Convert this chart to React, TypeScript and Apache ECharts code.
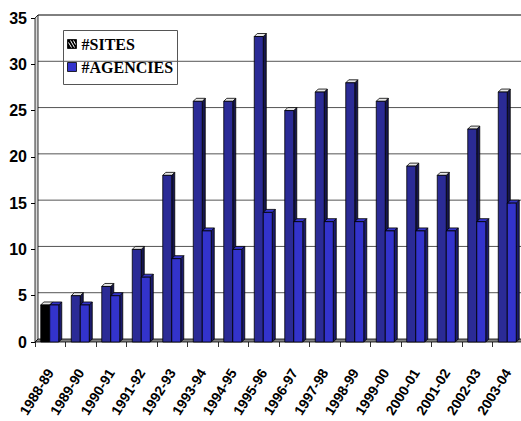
import React, { useEffect, useRef } from "react";
import * as echarts from "echarts";

// School years on the category axis
const categories = [
  "1988-89", "1989-90", "1990-91", "1991-92", "1992-93", "1993-94", "1994-95", "1995-96",
  "1996-97", "1997-98", "1998-99", "1999-00", "2000-01", "2001-02", "2002-03", "2003-04",
];
// Counts per year
const sites = [4, 5, 6, 10, 18, 26, 26, 33, 25, 27, 28, 26, 19, 18, 23, 27];
const agencies = [4, 4, 5, 7, 9, 12, 10, 14, 13, 13, 13, 12, 12, 12, 13, 15];
// Value axis ticks
const yTicks = [0, 5, 10, 15, 20, 25, 30, 35];
const seriesNames = ["#SITES", "#AGENCIES"];

const DEPTH = 3;
const BAR_W = 9;

const palettes = [
  { front: "#2B2B96", side: "#16164E", top: "#E6E6E6" },
  { front: "#3333CC", side: "#1B1B6E", top: "#3434C8" },
];

function makeBarSeries(si: number, values: number[]) {
  return {
    type: "custom",
    name: seriesNames[si],
    z: 3 + si,
    data: values.map((v, i) => [i, v]),
    encode: { x: 0, y: 1 },
    renderItem: (params: any, api: any) => {
      const idx = api.value(0);
      const val = api.value(1);
      const [cx, y] = api.coord([idx, val]);
      const [, y0] = api.coord([idx, 0]);
      const x0 = (si === 0 ? cx - BAR_W : cx) - 0.5;
      const x1 = x0 + BAR_W;
      const pal = palettes[si];
      // the first year's site bar is solid black
      const front = si === 0 && idx === 0 ? "#000000" : pal.front;
      const edge = { stroke: "#000", lineWidth: 0.8 };
      return {
        type: "group",
        children: [
          {
            type: "polygon",
            shape: { points: [[x1, y], [x1 + DEPTH, y - DEPTH], [x1 + DEPTH, y0 - DEPTH], [x1, y0]] },
            style: { fill: pal.side, ...edge },
          },
          {
            type: "polygon",
            shape: { points: [[x0, y], [x1, y], [x1 + DEPTH, y - DEPTH], [x0 + DEPTH, y - DEPTH]] },
            style: { fill: pal.top, ...edge },
          },
          {
            type: "rect",
            shape: { x: x0, y: y, width: BAR_W, height: y0 - y },
            style: { fill: front, ...edge },
          },
        ],
      };
    },
  };
}

// Back wall gridlines, left wall and floor of the 3D plot box
const frameSeries = {
  type: "custom",
  z: 1,
  silent: true,
  data: [[0, 0]],
  encode: { x: 0, y: 1 },
  renderItem: (params: any, api: any) => {
    const cs = params.coordSys;
    const L = cs.x;
    const R = cs.x + cs.width;
    const [, y0] = api.coord([0, 0]);
    const [, yTop] = api.coord([0, yTicks[yTicks.length - 1]]);
    const children: any[] = [];
    yTicks.forEach((t) => {
      if (t === 0) return;
      const [, yy] = api.coord([0, t]);
      children.push({
        type: "line",
        shape: { x1: L + DEPTH, y1: yy - DEPTH, x2: R + DEPTH, y2: yy - DEPTH },
        style: { stroke: t === 35 ? "#000" : "#555", lineWidth: 1 },
      });
    });
    children.push({
      type: "polygon",
      shape: { points: [[L, y0], [L, yTop], [L + DEPTH, yTop - DEPTH], [L + DEPTH, y0 - DEPTH]] },
      style: { fill: "#D8D8D8", stroke: "#000", lineWidth: 0.8 },
    });
    children.push({
      type: "polygon",
      shape: { points: [[L, y0], [R, y0], [R + DEPTH, y0 - DEPTH], [L + DEPTH, y0 - DEPTH]] },
      style: { fill: "#808080", stroke: "#000", lineWidth: 0.8 },
    });
    return { type: "group", children };
  },
};

const legendFont = 'bold 16px "Liberation Serif", "Times New Roman", serif';

const legendGraphic = {
  type: "group",
  left: 63,
  top: 30,
  children: [
    {
      type: "rect",
      shape: { x: 0, y: 0, width: 114, height: 54 },
      style: { fill: "#fff", stroke: "#555", lineWidth: 1 },
    },
    // hatched swatch
    {
      type: "rect",
      shape: { x: 4, y: 9, width: 9, height: 9 },
      style: { fill: "#000", stroke: "#000", lineWidth: 0.8 },
    },
    { type: "line", shape: { x1: 5, y1: 12, x2: 8, y2: 17 }, style: { stroke: "#fff", lineWidth: 1 } },
    { type: "line", shape: { x1: 7, y1: 10, x2: 11, y2: 17 }, style: { stroke: "#fff", lineWidth: 1 } },
    { type: "line", shape: { x1: 10, y1: 10, x2: 12, y2: 14 }, style: { stroke: "#fff", lineWidth: 1 } },
    {
      type: "text",
      style: { x: 18, y: 14, text: seriesNames[0], font: legendFont, fill: "#000", verticalAlign: "middle" },
    },
    {
      type: "rect",
      shape: { x: 4, y: 32, width: 9, height: 9 },
      style: { fill: palettes[1].front, stroke: "#000", lineWidth: 0.8 },
    },
    {
      type: "text",
      style: { x: 18, y: 37, text: seriesNames[1], font: legendFont, fill: "#000", verticalAlign: "middle" },
    },
  ],
};

export default function App() {
  const ref = useRef<HTMLDivElement>(null);

  useEffect(() => {
    if (!ref.current) return;
    const chart = echarts.init(ref.current, null, { renderer: "svg" });
    chart.setOption({
      animation: false,
      backgroundColor: "#fff",
      grid: { left: 35, top: 18, width: 488, height: 324, outerBoundsMode: "none", containLabel: false },
      xAxis: {
        type: "category",
        data: categories,
        axisLine: { show: false },
        axisTick: { show: true, length: 5, lineStyle: { color: "#333" } },
        axisLabel: {
          interval: 0,
          rotate: 58,
          margin: 28,
          fontFamily: '"Liberation Sans", Arial, sans-serif',
          fontWeight: "bold",
          fontSize: 14,
          color: "#000",
        },
        splitLine: { show: false },
      },
      yAxis: {
        type: "value",
        min: 0,
        max: 35,
        interval: 5,
        axisLine: { show: false },
        axisTick: { show: true, length: 4, lineStyle: { color: "#000" } },
        axisLabel: {
          margin: 8,
          fontFamily: '"Liberation Sans", Arial, sans-serif',
          fontWeight: "bold",
          fontSize: 16,
          color: "#000",
        },
        splitLine: { show: false },
      },
      series: [frameSeries, makeBarSeries(0, sites), makeBarSeries(1, agencies)],
      graphic: [legendGraphic],
    });
    return () => chart.dispose();
  }, []);

  return <div ref={ref} style={{ width: 521, height: 421, position: "absolute", left: 0, top: 0 }} />;
}
